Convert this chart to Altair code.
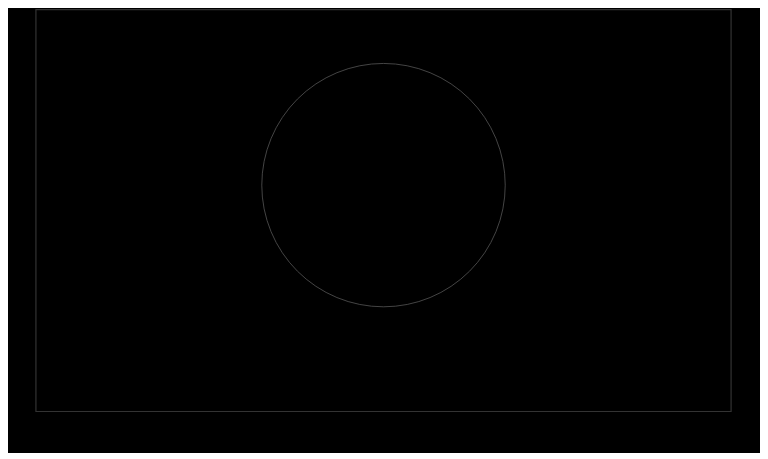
import altair as alt
import pandas as pd

categories = ["All"]
values = [1]

df = pd.DataFrame({"category": categories, "value": values})

pie = (
    alt.Chart(df)
    .mark_arc(radius=122, yOffset=-25.5, fill="#000000", stroke="#555555", strokeWidth=0.8)
    .encode(theta=alt.Theta("value:Q"))
)

frame = (
    alt.Chart(df)
    .mark_rect(fill="transparent", stroke="#333333", strokeWidth=1.2)
    .encode(
        x=alt.value(0),
        x2=alt.value("width"),
        y=alt.value(0),
        y2=alt.value("height"),
    )
)

chart = (
    alt.layer(frame, pie)
    .properties(
        width=697,
        height=403,
        padding={"left": 27, "top": 0, "right": 28, "bottom": 40},
        background="#000000",
    )
    .configure_view(stroke=None, fill="#000000")
)

chart.save("out.html", embed_options={"renderer": "svg", "actions": False})
